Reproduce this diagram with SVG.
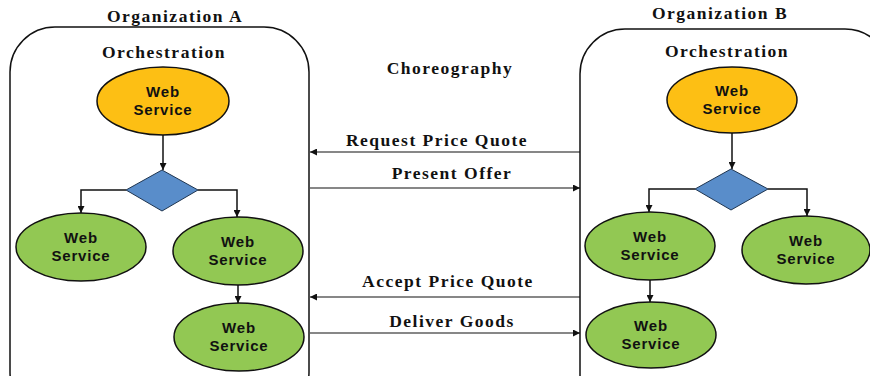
<svg xmlns="http://www.w3.org/2000/svg" width="870" height="376" viewBox="0 0 870 376">
  <style>
    .title { font-family: "Liberation Serif", "Times New Roman", serif; font-weight: bold; font-size: 17.5px; fill: #111; text-anchor: middle; letter-spacing: 1.5px; }
    .ws { font-family: "Liberation Sans", Arial, sans-serif; font-weight: bold; font-size: 15px; fill: #111; text-anchor: middle; letter-spacing: 0.8px; }
    .box { fill: none; stroke: #111; stroke-width: 1.5; }
    .orange { fill: #FDBF14; stroke: #111; stroke-width: 1.5; }
    .green { fill: #92C853; stroke: #111; stroke-width: 1.5; }
    .gate { fill: #598DCA; stroke: #1f3550; stroke-width: 1; }
    .flow { fill: none; stroke: #111; stroke-width: 1.5; marker-end: url(#arrow); }
    .msg { fill: none; stroke: #111; stroke-width: 1.2; marker-end: url(#arrow); }
  </style>
  <defs>
    <marker id="arrow" viewBox="0 0 10 10" refX="10" refY="5" markerWidth="7" markerHeight="7" markerUnits="userSpaceOnUse" orient="auto">
      <path d="M0,0 L10,5 L0,10 z" fill="#111"/>
    </marker>
  </defs>
  <rect width="870" height="376" fill="#ffffff"/>

  <!-- Organization A -->
  <g id="orgA">
    <text class="title" x="175" y="22">Organization A</text>
    <rect class="box" x="10" y="27" width="299" height="390" rx="45" ry="45"/>
    <text class="title" x="164" y="58">Orchestration</text>
  </g>
  <g id="a-ws-top">
    <ellipse class="orange" cx="163" cy="101" rx="66" ry="34"/>
    <text class="ws" x="163" y="97">Web</text>
    <text class="ws" x="163" y="115">Service</text>
  </g>
  <g id="a-gate">
    <polygon class="gate" points="162,170 198,190 162,211 126,190"/>
  </g>
  <g id="a-ws-left">
    <ellipse class="green" cx="81" cy="247" rx="65" ry="34"/>
    <text class="ws" x="81" y="243">Web</text>
    <text class="ws" x="81" y="261">Service</text>
  </g>
  <g id="a-ws-right">
    <ellipse class="green" cx="238" cy="251" rx="65" ry="34"/>
    <text class="ws" x="238" y="247">Web</text>
    <text class="ws" x="238" y="265">Service</text>
  </g>
  <g id="a-ws-bottom">
    <ellipse class="green" cx="239" cy="337" rx="65" ry="34"/>
    <text class="ws" x="239" y="333">Web</text>
    <text class="ws" x="239" y="351">Service</text>
  </g>

  <!-- Organization B -->
  <g id="orgB">
    <text class="title" x="720" y="19">Organization B</text>
    <rect class="box" x="580" y="29" width="310" height="390" rx="45" ry="45"/>
    <text class="title" x="727" y="57">Orchestration</text>
  </g>
  <g id="b-ws-top">
    <ellipse class="orange" cx="732" cy="100" rx="65" ry="33"/>
    <text class="ws" x="732" y="96">Web</text>
    <text class="ws" x="732" y="114">Service</text>
  </g>
  <g id="b-gate">
    <polygon class="gate" points="731,169 768,189 731,210 695,189"/>
  </g>
  <g id="b-ws-left">
    <ellipse class="green" cx="650" cy="246" rx="65" ry="34"/>
    <text class="ws" x="650" y="242">Web</text>
    <text class="ws" x="650" y="260">Service</text>
  </g>
  <g id="b-ws-right">
    <ellipse class="green" cx="806" cy="250" rx="64" ry="34"/>
    <text class="ws" x="806" y="246">Web</text>
    <text class="ws" x="806" y="264">Service</text>
  </g>
  <g id="b-ws-bottom">
    <ellipse class="green" cx="651" cy="335" rx="65" ry="33"/>
    <text class="ws" x="651" y="331">Web</text>
    <text class="ws" x="651" y="349">Service</text>
  </g>

  <text class="title" x="450" y="74">Choreography</text>

  <!-- Connectors -->
  <g id="connectors">
    <path class="flow" d="M163,135 V170"/>
    <path class="flow" d="M126,190 H81 V213"/>
    <path class="flow" d="M198,190 H237 V217"/>
    <path class="flow" d="M238,285 V303"/>

    <path class="flow" d="M732,133 V169"/>
    <path class="flow" d="M695,189 H649 V212"/>
    <path class="flow" d="M768,189 H807 V216"/>
    <path class="flow" d="M650,280 V302"/>

    <path class="msg" d="M580,152 H310"/>
    <path class="msg" d="M310,188 H580"/>
    <path class="msg" d="M580,297 H310"/>
    <path class="msg" d="M310,333 H580"/>

    <text class="title" x="437" y="146">Request Price Quote</text>
    <text class="title" x="452" y="179">Present Offer</text>
    <text class="title" x="448" y="287">Accept Price Quote</text>
    <text class="title" x="452" y="327">Deliver Goods</text>
  </g>
</svg>
